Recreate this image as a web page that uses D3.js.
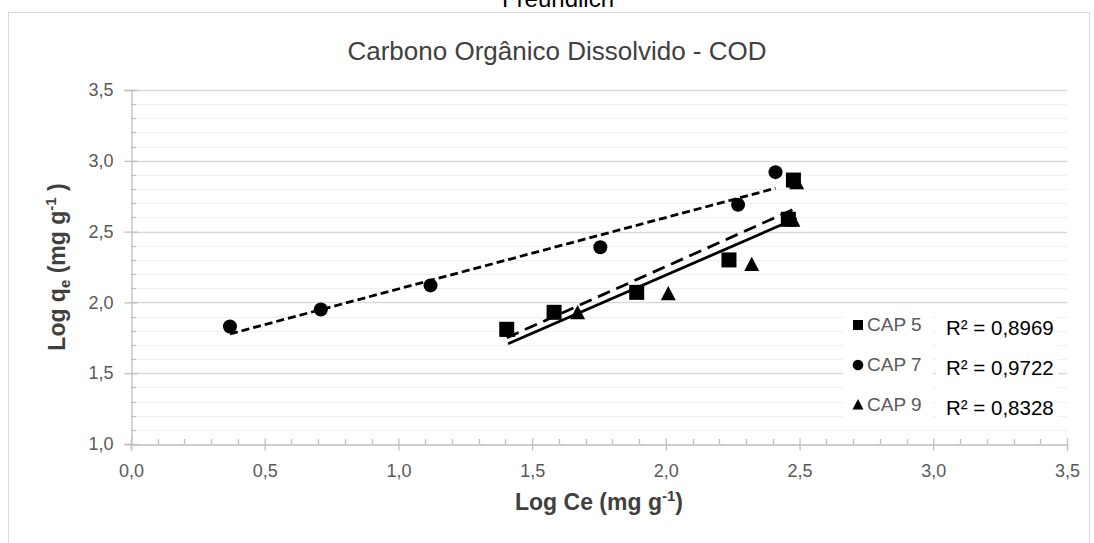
<!DOCTYPE html>
<html><head><meta charset="utf-8">
<script src="https://cdn.jsdelivr.net/npm/d3@7"></script>
<style>body{margin:0;background:#fff}svg{display:block}</style>
</head><body>
<svg id="chart" width="1094" height="543"></svg>
<script>
// ---- data ----
const xTicks = [0, 0.5, 1.0, 1.5, 2.0, 2.5, 3.0, 3.5];
const yTicks = [1.0, 1.5, 2.0, 2.5, 3.0, 3.5];
const cap5X = [1.405, 1.582, 1.891, 2.236, 2.458, 2.477];
const cap5Y = [1.81, 1.93, 2.071, 2.30, 2.587, 2.864];
const cap7X = [0.37, 0.71, 1.12, 1.755, 2.27, 2.41];
const cap7Y = [1.83, 1.95, 2.12, 2.39, 2.69, 2.92];
const cap9X = [1.41, 1.67, 2.009, 2.321, 2.475, 2.489];
const cap9Y = [1.80, 1.923, 2.057, 2.264, 2.577, 2.841];
const seriesNames = ["CAP 5", "CAP 7", "CAP 9"];
const r2Labels = ["R² = 0,8969", "R² = 0,9722", "R² = 0,8328"];
const topText = "Freundlich";
const titleText = "Carbono Orgânico Dissolvido - COD";

// ---- setup ----
const svg = d3.select("#chart");
const m = {left: 131, right: 1067, top: 90, bottom: 444};
const x = d3.scaleLinear().domain([0, 3.5]).range([m.left, m.right]);
const y = d3.scaleLinear().domain([1, 3.5]).range([m.bottom, m.top]);
const fmt = v => d3.format(".1f")(v).replace(".", ",");
const FONT = "'Liberation Sans', Arial, sans-serif";

// outer border
svg.append("rect").attr("x", 8.5).attr("y", 12.5).attr("width", 1081).attr("height", 600)
  .attr("fill", "#fff").attr("stroke", "#d9d9d9").attr("stroke-width", 1);

// top (partly clipped) text
svg.append("text").attr("x", 558).attr("y", 7).attr("text-anchor", "middle")
  .attr("font-family", FONT).attr("font-size", 24).attr("fill", "#000").text(topText);

// title
svg.append("text").attr("x", 557).attr("y", 60).attr("text-anchor", "middle")
  .attr("font-family", FONT).attr("font-size", 26).attr("fill", "#404040").text(titleText);

// gridlines
const minorY = d3.range(11, 35).map(v => v / 10).filter(v => Math.abs(v * 2 - Math.round(v * 2)) > 1e-6);
svg.append("g").selectAll("line").data(minorY).join("line")
  .attr("x1", m.left).attr("x2", m.right)
  .attr("y1", d => Math.round(y(d)) + 0.5).attr("y2", d => Math.round(y(d)) + 0.5)
  .attr("stroke", "#f0f0f0").attr("stroke-width", 1);
svg.append("g").selectAll("line").data(yTicks.filter(v => v > 1)).join("line")
  .attr("x1", m.left).attr("x2", m.right)
  .attr("y1", d => Math.round(y(d)) + 0.5).attr("y2", d => Math.round(y(d)) + 0.5)
  .attr("stroke", "#d9d9d9").attr("stroke-width", 1.3);

// axes
const axisColor = "#bfbfbf";
const xAxis = svg.append("g").attr("transform", `translate(0,${m.bottom + 0.5})`);
xAxis.call(d3.axisBottom(x).tickValues(xTicks).tickSize(6).tickPadding(14).tickFormat(fmt));
const xMinor = d3.range(1, 35).map(v => v / 10).filter(v => Math.abs(v * 2 - Math.round(v * 2)) > 1e-6);
const yAxis = svg.append("g").attr("transform", `translate(${m.left + 0.5},0)`);
yAxis.call(d3.axisLeft(y).tickValues(yTicks).tickSize(7).tickPadding(11).tickFormat(fmt));
[xAxis, yAxis].forEach(g => {
  g.select(".domain").attr("stroke", axisColor).attr("stroke-width", 1.3);
  g.selectAll(".tick line").attr("stroke", axisColor).attr("stroke-width", 1.3);
  g.selectAll(".tick text").attr("fill", "#595959").attr("font-family", FONT).attr("font-size", 18);
});
xAxis.selectAll(".tick").append("line").attr("y1", 0).attr("y2", -6).attr("stroke", axisColor).attr("stroke-width", 1.3);
yAxis.selectAll(".tick").append("line").attr("x1", 0).attr("x2", 6).attr("stroke", axisColor).attr("stroke-width", 1.3);
svg.append("g").selectAll("line").data(xMinor).join("line")
  .attr("x1", d => Math.round(x(d)) + 0.5).attr("x2", d => Math.round(x(d)) + 0.5)
  .attr("y1", m.bottom).attr("y2", m.bottom - 5)
  .attr("stroke", axisColor).attr("stroke-width", 1.3);
svg.append("g").selectAll("line").data(minorY).join("line")
  .attr("y1", d => Math.round(y(d)) + 0.5).attr("y2", d => Math.round(y(d)) + 0.5)
  .attr("x1", m.left).attr("x2", m.left + 5)
  .attr("stroke", axisColor).attr("stroke-width", 1.3);
svg.append("line").attr("x1", m.left + 0.5).attr("x2", m.left + 0.5)
  .attr("y1", m.bottom).attr("y2", m.bottom + 6).attr("stroke", axisColor).attr("stroke-width", 1.3);

// axis titles
const xt = svg.append("text").attr("x", (m.left + m.right) / 2).attr("y", 510)
  .attr("text-anchor", "middle").attr("font-family", FONT).attr("font-size", 23)
  .attr("font-weight", "bold").attr("fill", "#404040");
xt.append("tspan").text("Log Ce (mg g");
xt.append("tspan").attr("dy", -9).attr("font-size", 15).text("-1");
xt.append("tspan").attr("dy", 9).text(")");

const yt = svg.append("text")
  .attr("transform", `translate(65,${(m.top + m.bottom) / 2}) rotate(-90)`)
  .attr("text-anchor", "middle").attr("font-family", FONT).attr("font-size", 23)
  .attr("font-weight", "bold").attr("fill", "#404040");
yt.append("tspan").text("Log q");
yt.append("tspan").attr("dy", 5).attr("font-size", 15).text("e");
yt.append("tspan").attr("dy", -5).text(" (mg g");
yt.append("tspan").attr("dy", -9).attr("font-size", 15).text("-1");
yt.append("tspan").attr("dy", 9).text(" )");

// trendlines (least squares, like Excel)
function fit(xs, ys) {
  const mx = d3.mean(xs), my = d3.mean(ys);
  let sxy = 0, sxx = 0;
  xs.forEach((v, i) => { sxy += (v - mx) * (ys[i] - my); sxx += (v - mx) * (v - mx); });
  const b = sxy / sxx, a = my - b * mx;
  const x0 = d3.min(xs), x1 = d3.max(xs);
  return [[x0, a + b * x0], [x1, a + b * x1]];
}
const line = d3.line().x(d => x(d[0])).y(d => y(d[1]));
const trends = [
  {pts: fit(cap5X, cap5Y), dash: "13,7"},
  {pts: fit(cap7X, cap7Y), dash: "8,4"},
  {pts: fit(cap9X, cap9Y), dash: null}
];
svg.append("g").selectAll("path").data(trends).join("path")
  .attr("d", d => line(d.pts)).attr("fill", "none").attr("stroke", "#000")
  .attr("stroke-width", 2.8).attr("stroke-dasharray", d => d.dash);

// markers
const toPts = (xs, ys) => xs.map((v, i) => [v, ys[i]]);
const triPath = s => `M0,${-s * 0.55}L${s / 2},${s * 0.4}L${-s / 2},${s * 0.4}Z`;
svg.append("g").selectAll("path").data(toPts(cap9X, cap9Y)).join("path")
  .attr("transform", d => `translate(${x(d[0])},${y(d[1])})`)
  .attr("d", triPath(15)).attr("fill", "#000");
svg.append("g").selectAll("circle").data(toPts(cap7X, cap7Y)).join("circle")
  .attr("cx", d => x(d[0])).attr("cy", d => y(d[1])).attr("r", 7).attr("fill", "#000");
svg.append("g").selectAll("rect").data(toPts(cap5X, cap5Y)).join("rect")
  .attr("x", d => x(d[0]) - 7.5).attr("y", d => y(d[1]) - 7.5)
  .attr("width", 15).attr("height", 15).attr("fill", "#000");

// legend
const lg = svg.append("g");
lg.append("rect").attr("x", 843).attr("y", 306).attr("width", 90).attr("height", 120).attr("fill", "#fff");
lg.append("rect").attr("x", 936).attr("y", 308).attr("width", 122).attr("height", 116).attr("fill", "#fff");
const rowY = [325, 365, 405];
const mk = lg.selectAll("g.item").data(seriesNames).join("g").attr("class", "item")
  .attr("transform", (d, i) => `translate(858,${rowY[i]})`);
mk.each(function(d, i) {
  const g = d3.select(this);
  if (i === 0) g.append("rect").attr("x", -5).attr("y", -5).attr("width", 10).attr("height", 10).attr("fill", "#000");
  if (i === 1) g.append("circle").attr("r", 5.3).attr("fill", "#000");
  if (i === 2) g.append("path").attr("d", triPath(11)).attr("fill", "#000");
  g.append("text").attr("x", 9).attr("y", 6).attr("font-family", FONT).attr("font-size", 19)
    .attr("fill", "#595959").text(d);
});
lg.selectAll("text.r2").data(r2Labels).join("text").attr("class", "r2")
  .attr("x", 946).attr("y", (d, i) => rowY[i] + 10)
  .attr("font-family", FONT).attr("font-size", 20.5).attr("fill", "#000").text(d => d);
</script>
</body></html>
